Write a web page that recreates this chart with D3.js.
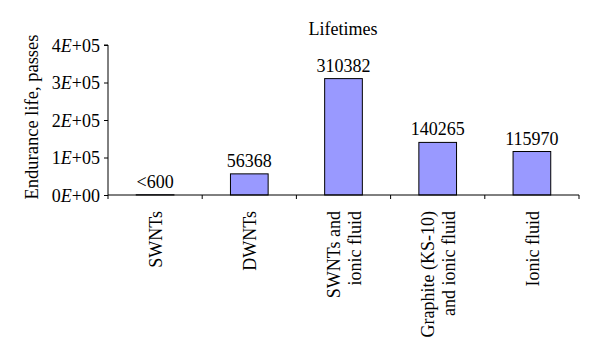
<!DOCTYPE html>
<html><head><meta charset="utf-8">
<script src="https://cdn.jsdelivr.net/npm/d3@7"></script>
<style>body{margin:0;background:#fff}text{font-family:"Liberation Serif","Times New Roman",serif;fill:#000}</style>
</head><body><svg id="c" width="600" height="364"></svg>
<script>
const categories = [["SWNTs"],["DWNTs"],["SWNTs and","ionic fluid"],["Graphite (KS-10)","and ionic fluid"],["Ionic fluid"]];
const values = [600, 56368, 310382, 140265, 115970];
const valueLabels = ["<600","56368","310382","140265","115970"];
const yTicks = [0, 100000, 200000, 300000, 400000];
const yTickLabels = [["0","E","+00"],["1","E","+05"],["2","E","+05"],["3","E","+05"],["4","E","+05"]];

const svg = d3.select("#c");
const m = {l:108, r:21, t:45, b:169};
const W = 600, H = 364;
const x = d3.scaleBand().domain(d3.range(categories.length)).range([m.l, W-m.r]).paddingInner(0).paddingOuter(0);
const y = d3.scaleLinear().domain([0,400000]).range([H-m.b, m.t]);
const fs = 18;

// title
svg.append("text").attr("x", 343).attr("y", 35).attr("text-anchor","middle").attr("font-size",fs).text("Lifetimes");

// bars
const bw = x.bandwidth()*0.4;
svg.selectAll("rect.bar").data(values).enter().append("rect")
  .attr("x",(d,i)=>x(i)+x.bandwidth()/2-bw/2)
  .attr("y",d=>y(d)).attr("width",bw).attr("height",d=>y(0)-y(d))
  .attr("fill","#9999ff").attr("stroke","#000").attr("stroke-width",1);

svg.selectAll("text.val").data(values).enter().append("text")
  .attr("x",(d,i)=>x(i)+x.bandwidth()/2).attr("y",d=>y(d)-7)
  .attr("text-anchor","middle").attr("font-size",fs).text((d,i)=>valueLabels[i]);

// y axis
const ya = svg.append("g").attr("transform",`translate(${m.l},0)`)
  .call(d3.axisLeft(y).tickValues(yTicks).tickSize(4).tickFormat(""));
ya.select(".domain").attr("stroke","#000").attr("d",`M-4,${y(400000)}H0V${y(0)}`);
ya.selectAll(".tick line").attr("stroke","#000");
ya.selectAll(".tick").each(function(d,i){
  const t = d3.select(this).append("text").attr("x",-8).attr("dy","0.35em")
    .attr("text-anchor","end").attr("font-size",fs).attr("fill","#000");
  const p = yTickLabels[i];
  t.append("tspan").text(p[0]);
  t.append("tspan").attr("font-style","italic").text(p[1]);
  t.append("tspan").text(p[2]);
});

// x axis
const xa = svg.append("g").attr("transform",`translate(0,${y(0)})`);
xa.append("line").attr("x1",m.l).attr("x2",W-m.r).attr("stroke","#000");
const edges = d3.range(categories.length+1).map(i=> i<categories.length ? x(i) : x(i-1)+x.bandwidth());
xa.selectAll("line.t").data(edges).enter().append("line")
  .attr("x1",d=>d).attr("x2",d=>d).attr("y1",0).attr("y2",4).attr("stroke","#000");

categories.forEach((lines,i)=>{
  const cx = x(i)+x.bandwidth()/2;
  const n = lines.length, lh = 21;
  lines.forEach((s,j)=>{
    const off = (j-(n-1)/2)*lh;
    svg.append("text").attr("transform",`translate(${cx+off+7},${y(0)+16}) rotate(-90)`)
      .attr("text-anchor","end").attr("font-size",fs).text(s);
  });
});

// y label
svg.append("text").attr("transform",`translate(38,${(y(0)+y(400000))/2 - 3}) rotate(-90)`)
  .attr("text-anchor","middle").attr("font-size",18.5).text("Endurance life, passes");
</script></body></html>
